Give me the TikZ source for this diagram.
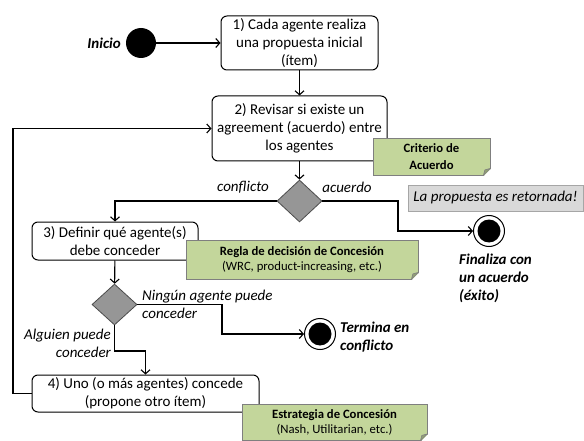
\documentclass[tikz,border=0pt]{standalone}
\usepackage{fontspec}
\setmainfont{Carlito}
\usetikzlibrary{shapes.geometric,arrows.meta}
\definecolor{notegreen}{HTML}{C3D69B}
\definecolor{noteborder}{HTML}{7F7F7F}
\definecolor{diagray}{HTML}{969696}
\definecolor{boxgray}{HTML}{D9D9D9}
\definecolor{boxborder}{HTML}{A6A6A6}
\newcommand\foldnote[1]{%
  \fill[white] ([xshift=-7pt,yshift=-1pt]#1.south east) -- ([xshift=1pt,yshift=-1pt]#1.south east) -- ([xshift=1pt,yshift=7pt]#1.south east) -- cycle;
  \draw[foldstyle] ([xshift=-7pt]#1.south east) -- ([yshift=7pt]#1.south east) -- ([xshift=-5.5pt,yshift=5.5pt]#1.south east) -- cycle;
}
\begin{document}
\begin{tikzpicture}[x=1pt,y=-1pt,
  every node/.style={font=\fontsize{15}{18}\selectfont},
  stepbox/.style={draw, rounded corners=6pt, fill=white, line width=1pt, align=center, inner sep=0pt},
  decision/.style={diamond, draw=black!70, fill=diagray, line width=0.8pt, inner sep=0pt},
  startstate/.style={circle, fill=black, minimum size=30pt, inner sep=0pt},
  endstate/.style={circle, draw, fill=white, line width=1pt, minimum size=31pt, inner sep=0pt},
  flow/.style={line width=1.1pt, -{Straight Barb[length=4pt,width=9pt]}},
  conn/.style={line width=1.1pt},
  lbl/.style={font=\fontsize{15}{18}\selectfont\itshape, inner sep=0pt},
  blbl/.style={font=\fontsize{15}{18}\selectfont\bfseries\itshape, align=left, inner sep=0pt},
  notebox/.style={draw=noteborder, fill=notegreen, line width=0.8pt, align=center, inner sep=0pt, font=\fontsize{12.7}{15.5}\selectfont},
  foldstyle/.style={fill=notegreen!75!black, draw=noteborder, line width=0.6pt, line join=round},
  graybox/.style={draw=boxborder, fill=boxgray, line width=0.8pt, inner sep=0pt, font=\fontsize{15}{18}\selectfont\itshape},
]
\useasboundingbox (0,0) rectangle (584,441);

% states
\node[startstate] (start) at (141,43) {};
\node[blbl, anchor=east] (inicio) at (121,43) {Inicio};

\node[stepbox, minimum width=157pt, minimum height=54pt] (b1) at (299.5,43)
  {1) Cada agente realiza\\una propuesta inicial\\(ítem)};
\node[stepbox, minimum width=175pt, minimum height=65pt] (b2) at (299.5,128.5)
  {2) Revisar si existe un\\agreement (acuerdo) entre\\los agentes};
\node[decision, minimum width=45pt, minimum height=42pt] (d1) at (299.5,201) {};
\node[stepbox, minimum width=166pt, minimum height=38pt] (b3) at (115,241)
  {3) Definir qué agente(s)\\debe conceder};
\node[decision, minimum width=45pt, minimum height=41pt] (d2) at (114.5,304.5) {};
\node[stepbox, minimum width=227pt, minimum height=37pt] (b4) at (145.5,393.5)
  {4) Uno (o más agentes) concede\\(propone otro ítem)};

\node[endstate] (e1) at (489,231) {};
\fill (e1.center) circle (11.5);
\node[endstate] (e2) at (320,334) {};
\fill (e2.center) circle (11.5);

% free corner points of connectors
\coordinate (k1) at (398,201);
\coordinate (k2) at (222,304.5);
\coordinate (k3) at (114.5,351);
\coordinate (k4) at (13,393.5);

% connectors
\draw[flow] (start) -- (b1);
\draw[flow] (b1) -- (b2);
\draw[flow] (b2) -- (d1);
\draw[flow] (d1.west) -| (b3.north);
\draw[flow] (d1.east) -- (k1) |- (e1.west);
\draw[flow] (b3) -- (d2);
\draw[flow] (d2.east) -- (k2) |- (e2.west);
\draw[flow] (d2.south) -- (k3) -| (b4.north);
\draw[flow] (b4.west) -- (k4) |- (b2.west);

% labels
\node[lbl] (lconf) at (243,187) {conflicto};
\node[lbl] (lacu) at (347,187) {acuerdo};
\node[graybox, minimum width=175pt, minimum height=26pt] (ret) at (495.5,198) {La propuesta es retornada!};
\node[blbl, anchor=west] (fin) at (459,278) {Finaliza con\\un acuerdo\\(éxito)};
\node[lbl, anchor=west, align=left] (ning) at (142,304.5) {Ningún agente puede\\conceder};
\node[blbl, anchor=west] (term) at (340,337.5) {Termina en\\conflicto};
\node[lbl, anchor=east, align=right] (alg) at (111,343) {Alguien puede\\conceder};

% notes
\node[notebox, minimum width=117pt, minimum height=37pt, font=\fontsize{12.7}{17}\selectfont\bfseries] (n1) at (431.5,156.5)
  {Criterio de\\Acuerdo};
\foldnote{n1}
\node[notebox, minimum width=232pt, minimum height=39pt] (n2) at (302,259.5)
  {\textbf{Regla de decisión de Concesión}\\(WRC, product-increasing, etc.)};
\foldnote{n2}
\node[notebox, minimum width=185pt, minimum height=36pt] (n3) at (334.5,422.5)
  {\textbf{Estrategia de Concesión}\\(Nash, Utilitarian, etc.)};
\foldnote{n3}
\end{tikzpicture}
\end{document}
